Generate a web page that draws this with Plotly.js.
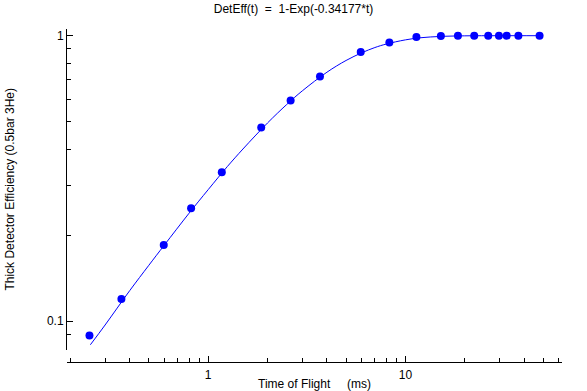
<!DOCTYPE html>
<html>
<head>
<meta charset="utf-8">
<script src="https://cdn.plot.ly/plotly-3.0.1.min.js"></script>
<style>html,body{margin:0;padding:0;background:#fff;}#chart{width:587px;height:391px;}</style>
</head>
<body>
<div id="chart"></div>
<script>
// Measured data points: time of flight (ms) and detector efficiency
const tofData = [0.250, 0.363, 0.595, 0.819, 1.172, 1.857, 2.618, 3.688, 5.935, 8.29, 11.37, 15.13, 18.46, 22.33, 26.3, 29.8, 32.6, 37.4, 47.9];
const effData = [0.0891, 0.1197, 0.1848, 0.2485, 0.3324, 0.4769, 0.5929, 0.7199, 0.8766, 0.9474, 0.9895, 0.997, 0.999, 1.0, 1.0, 1.0, 1.0, 1.0, 1.0];

// Fitted curve
const tofCurve = [0.2526, 0.3, 0.4, 0.5, 0.6, 0.8, 1.0, 1.25, 1.5, 2.0, 2.5, 3.0, 4.0, 5.0, 6.0, 7.0, 8.0, 10.0, 12.0, 15.0, 20.0, 30.0, 47.9];
const effCurve = [0.0827, 0.097, 0.128, 0.157, 0.185, 0.239, 0.289, 0.348, 0.401, 0.495, 0.574, 0.641, 0.745, 0.819, 0.871, 0.909, 0.935, 0.967, 0.984, 0.994, 0.999, 1.0, 1.0];

const titleText = "DetEff(t)\u00a0 =\u00a0 1-Exp(-0.34177*t)";
const xTitle = "Time of Flight\u00a0\u00a0\u00a0\u00a0 (ms)";
const yTitle = "Thick Detector Efficiency (0.5bar 3He)";

const font = {family: "Arial, 'Liberation Sans', sans-serif", size: 12, color: "#000"};

const traces = [
  {x: tofCurve, y: effCurve, type: "scatter", mode: "lines",
   line: {color: "#0000ff", width: 1, shape: "spline"}, hoverinfo: "skip"},
  {x: tofData, y: effData, type: "scatter", mode: "markers",
   marker: {color: "#0000ff", size: 8, line: {width: 0}}}
];

const axisCommon = {
  type: "log", dtick: 1, showgrid: false, zeroline: false,
  showline: true, linecolor: "#000", linewidth: 1, mirror: false,
  ticks: "inside", ticklen: 6, tickwidth: 1, tickcolor: "#000",
  tickfont: font,
  minor: {dtick: "D1", ticks: "inside", ticklen: 4, tickwidth: 1, tickcolor: "#000", showgrid: false}
};

const layout = {
  width: 587, height: 391,
  paper_bgcolor: "#fff", plot_bgcolor: "#fff",
  showlegend: false,
  font: font,
  margin: {l: 67.3, r: 25.3, t: 29.3, b: 29.3, pad: 0},
  title: {text: titleText, font: font, x: 0.5, xref: "container", xanchor: "center",
          y: 1 - 9 / 391, yref: "container", yanchor: "middle"},
  xaxis: Object.assign({}, axisCommon, {
    range: [-0.716, 1.794], anchor: "free", position: 0,
    ticklabelstandoff: 2,
    title: {text: xTitle, font: font, standoff: 4}
  }),
  yaxis: Object.assign({}, axisCommon, {
    range: [-1.0993, 0.0235], domain: [0.0373, 1],
    title: {text: yTitle, font: font, standoff: 29}
  })
};

Plotly.newPlot("chart", traces, layout, {displayModeBar: false, staticPlot: true});
</script>
</body>
</html>
